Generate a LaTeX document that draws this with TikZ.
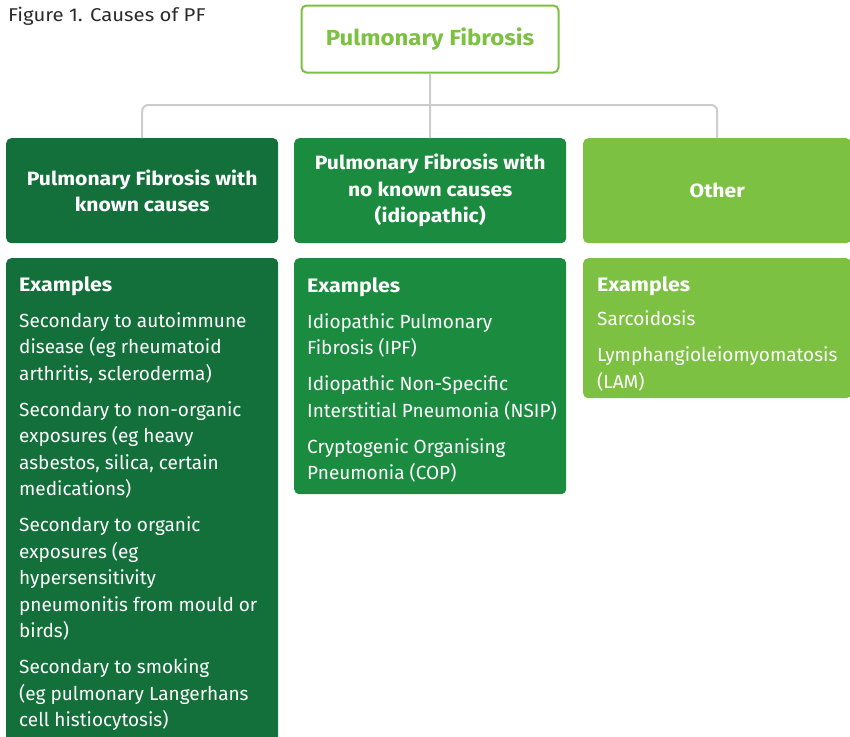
\documentclass[tikz,border=0pt]{standalone}
\usepackage{fontspec}
\setmainfont{Fira Sans}[FakeStretch=1.0, BoldFeatures={FakeStretch=1.1}]
\newfontfamily\titlefont{Fira Sans}[FakeStretch=1.1]
\definecolor{gA}{HTML}{13703A}
\definecolor{gB}{HTML}{1B8C3F}
\definecolor{gC}{HTML}{7CC142}
\definecolor{lineg}{HTML}{CCCCCC}
\definecolor{titleg}{HTML}{2B2B2B}
\tikzset{
  hdr/.style={rounded corners=5pt, minimum height=105pt, text=white, align=center, inner sep=0pt,
    font=\fontsize{19.2}{26.5}\selectfont\bfseries, anchor=north west},
  body/.style={rounded corners=5pt, inner sep=0pt, anchor=north west},
  extext/.style={anchor=north west, inner sep=0pt, align=left, text=white,
    font=\fontsize{19}{26.5}\selectfont},
  conn/.style={draw=lineg, line width=2pt, rounded corners=6pt}
}
\newcommand{\exhead}{{\fontsize{19.5}{26.5}\selectfont\bfseries Examples}}
\begin{document}
\begin{tikzpicture}[x=1pt,y=-1pt]
\useasboundingbox (0,0) rectangle (850,736);
\clip (0,0) rectangle (850,736);
% title
\node[anchor=base west, inner sep=0pt, text=titleg, font=\titlefont\fontsize{18.5}{20}\selectfont] (title) at (8,21.7) {Figure 1. Causes of PF};
% top box
\node[draw=gC, line width=2pt, fill=white, rounded corners=5pt, minimum width=257pt, minimum height=67pt,
  text=gC, font=\fontsize{21.8}{24}\selectfont\bfseries, inner sep=0pt] (top) at (430,39) {Pulmonary Fibrosis};
% header boxes
\node[hdr, fill=gA, minimum width=272pt] (hA) at (6,138) {Pulmonary Fibrosis with\\known causes};
\node[hdr, fill=gB, minimum width=272pt] (hB) at (294,138) {Pulmonary Fibrosis with\\no known causes\\(idiopathic)};
\node[hdr, fill=gC, minimum width=268pt] (hC) at (583,138) {Other};
% connectors
\draw[conn] (top.south) -- (hB.north);
\draw[conn] (hA.north) |- (top.south |- 0,105) -| (hC.north);
% body boxes
\node[body, fill=gA, minimum width=272pt, minimum height=500pt] (bA) at (6,258) {};
\node[body, fill=gB, minimum width=272pt, minimum height=236pt] (bB) at (294,258) {};
\node[body, fill=gC, minimum width=268pt, minimum height=140pt] (bC) at (583,258) {};
% texts
\node[extext] (tA) at (19,276) {\exhead\\[9.5pt]
Secondary to autoimmune\\disease (eg rheumatoid\\arthritis, scleroderma)\\[9.5pt]
Secondary to non-organic\\exposures (eg heavy\\asbestos, silica, certain\\medications)\\[9.5pt]
Secondary to organic\\exposures (eg\\hypersensitivity\\pneumonitis from mould or\\birds)\\[9.5pt]
Secondary to smoking\\(eg pulmonary Langerhans\\cell histiocytosis)};
\node[extext] (tB) at (307,277) {\exhead\\[9.5pt]
Idiopathic Pulmonary\\Fibrosis (IPF)\\[9.5pt]
Idiopathic Non-Specific\\Interstitial Pneumonia (NSIP)\\[9.5pt]
Cryptogenic Organising\\Pneumonia (COP)};
\node[extext] (tC) at (597,276) {\exhead\\[8pt]
Sarcoidosis\\[9.5pt]
Lymphangioleiomyomatosis\\(LAM)};
\end{tikzpicture}
\end{document}
